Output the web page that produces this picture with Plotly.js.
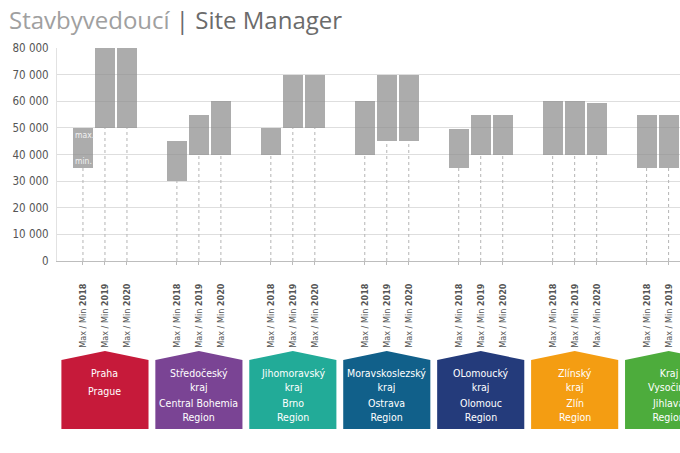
<!DOCTYPE html>
<html>
<head>
<meta charset="utf-8">
<script src="https://cdn.plot.ly/plotly-3.0.1.min.js"></script>
<style>
html,body{margin:0;padding:0;overflow:hidden;background:#fff;width:680px;height:453px;}
#chart{width:760px;height:453px;}
</style>
</head>
<body>
<div id="chart"></div>
<script>
// ---- data ----
const regionsCz = ['Praha', 'Středočeský<br>kraj', 'Jihomoravský<br>kraj', 'Moravskoslezský<br>kraj', 'OLomoucký<br>kraj', 'Zlínský<br>kraj', 'Kraj<br>Vysočina'];
const regionsEn = ['Prague', 'Central Bohemia<br>Region', 'Brno<br>Region', 'Ostrava<br>Region', 'Olomouc<br>Region', 'Zlín<br>Region', 'Jihlava<br>Region'];
const regionColors = ['#c61a3a', '#7a4494', '#22ab98', '#11608a', '#243b7b', '#f49d12', '#4dac3c'];
const years = ['2018', '2019', '2020'];
const maxVals = [
  [50000, 80000, 80000],
  [45000, 55000, 60000],
  [50000, 70000, 70000],
  [60000, 70000, 70000],
  [49500, 55000, 55000],
  [60000, 60000, 59500],
  [55000, 55000, 55000]
];
const minVals = [
  [35000, 50000, 50000],
  [30000, 40000, 40000],
  [40000, 50000, 50000],
  [40000, 45000, 45000],
  [35000, 40000, 40000],
  [40000, 40000, 40000],
  [35000, 35000, 35000]
];
const yTicks = [0, 10000, 20000, 30000, 40000, 50000, 60000, 70000, 80000];

// ---- layout helpers ----
const groupStep = 4.27;
const pos = (g, j) => g * groupStep + j;
const condensed = "'DejaVu Sans Condensed', 'Liberation Sans Narrow', sans-serif";

const bx = [], by = [], bbase = [], tickvals = [], ticktext = [];
const traces = [];
maxVals.forEach((row, g) => {
  row.forEach((mx, j) => {
    const mn = minVals[g][j];
    const x = pos(g, j);
    bx.push(x); by.push(mx - mn); bbase.push(mn);
    tickvals.push(x);
    ticktext.push('Max / Min <b>' + years[j] + '</b>');
    traces.push({
      type: 'scatter', mode: 'lines', x: [x, x], y: [0, mn],
      line: {color: '#b4b4b4', width: 1, dash: 'dot'},
      hoverinfo: 'skip', showlegend: false
    });
  });
});
traces.push({
  type: 'bar', x: bx, y: by, base: bbase, width: 0.9,
  marker: {color: 'rgba(140,140,140,0.72)', line: {width: 0}},
  showlegend: false
});

// houses + labels
const shapes = [];
const annotations = [];
const pyOf = px => (261 - px) / 213; // pixel row -> paper y
const halfW = 1.98;
regionsCz.forEach((cz, g) => {
  const c = pos(g, 1);
  const L = c - halfW, R = c + halfW;
  shapes.push({
    type: 'path', xref: 'x', yref: 'paper',
    path: `M ${L},${pyOf(429)} L ${L},${pyOf(360)} L ${c},${pyOf(351)} L ${R},${pyOf(360)} L ${R},${pyOf(429)} Z`,
    fillcolor: regionColors[g], line: {width: 0}, layer: 'above'
  });
  const nCz = cz.split('<br>').length;
  annotations.push({
    xref: 'x', yref: 'paper', x: c, y: pyOf(365), xanchor: 'center', yanchor: 'top',
    text: cz, showarrow: false, align: 'center',
    font: {family: condensed, size: 10.5, color: '#ffffff'}
  });
  annotations.push({
    xref: 'x', yref: 'paper', x: c, y: pyOf(365 + nCz * 12.5 + 5), xanchor: 'center', yanchor: 'top',
    text: regionsEn[g], showarrow: false, align: 'center',
    font: {family: condensed, size: 10.5, color: '#ffffff'}
  });
});
// max./min. hints on the first bar
annotations.push({
  xref: 'x', yref: 'y', x: pos(0, 0) - 0.45, y: maxVals[0][0], xanchor: 'left', yanchor: 'top',
  text: 'max.', showarrow: false, font: {family: condensed, size: 8.5, color: '#f2f2f2'}
});
annotations.push({
  xref: 'x', yref: 'y', x: pos(0, 0) - 0.45, y: minVals[0][0], xanchor: 'left', yanchor: 'bottom',
  text: 'min.', showarrow: false, font: {family: condensed, size: 8.5, color: '#f2f2f2'}
});

const layout = {
  width: 760, height: 453,
  margin: {l: 57, r: 0, t: 48, b: 192},
  paper_bgcolor: '#ffffff', plot_bgcolor: '#ffffff',
  showlegend: false,
  title: {
    text: '<span style="color:#a0a0a0">Stavbyvedoucí</span> | Site Manager',
    x: 9 / 760, xanchor: 'left', xref: 'container',
    y: 1 - 21 / 453, yanchor: 'middle', yref: 'container',
    font: {family: "'Open Sans', sans-serif", size: 24, color: '#6b6b6b'}
  },
  xaxis: {
    range: [-1.18, -1.18 + 703 / 22],
    tickmode: 'array', tickvals: tickvals, ticktext: ticktext,
    tickangle: -90, ticklabelstandoff: 15,
    tickfont: {family: condensed, size: 9, color: '#555555'},
    ticks: 'outside', ticklen: 3, tickcolor: '#bbbbbb',
    showgrid: false, zeroline: false,
    showline: true, linecolor: '#bdbdbd', linewidth: 1,
    fixedrange: true
  },
  yaxis: {
    range: [0, 80000],
    tickmode: 'array', tickvals: yTicks,
    ticktext: yTicks.map(v => v === 0 ? '0' : (v / 1000) + ' 000'),
    tickfont: {family: condensed, size: 11.5, color: '#555555'},
    ticklabelstandoff: 5,
    showgrid: true, gridcolor: '#dedede', gridwidth: 1,
    zeroline: false, showline: true, linecolor: '#e2e2e2',
    fixedrange: true
  },
  shapes: shapes,
  annotations: annotations,
  bargap: 0
};

Plotly.newPlot('chart', traces, layout, {displayModeBar: false, staticPlot: true});
</script>
</body>
</html>
